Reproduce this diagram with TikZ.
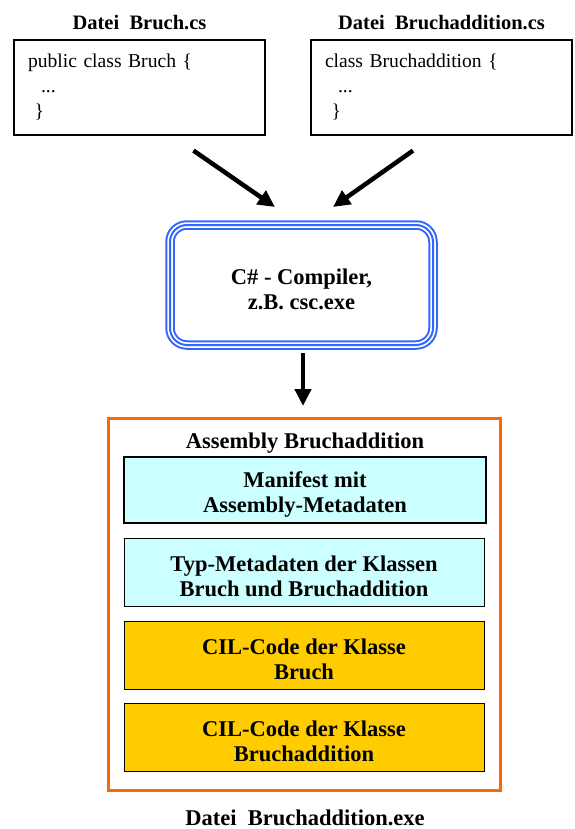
\documentclass[tikz,border=0pt]{standalone}
\usepackage{fontspec}
\setmainfont{Liberation Serif}
\usetikzlibrary{positioning,arrows.meta}
\definecolor{compblue}{RGB}{51,102,255}
\definecolor{exeorange}{RGB}{255,102,0}
\definecolor{metacyan}{RGB}{204,255,255}
\definecolor{cilgold}{RGB}{255,204,0}
% taller first line, pushes two-line texts a little down in their boxes
\newcommand{\firstline}{\rule{0pt}{24pt}}
\tikzstyle{title} = [font=\fontsize{22.5}{25}\selectfont\bfseries, align=center]
\tikzstyle{filetitle} = [font=\fontsize{20.5}{25}\selectfont\bfseries]
\tikzstyle{source} = [rectangle, draw=black, line width=1.2pt, minimum height=95pt, align=left, inner xsep=14pt, font=\fontsize{19.6}{25}\selectfont]
\tikzstyle{compiler} = [rectangle, rounded corners=17pt, minimum width=263pt, minimum height=120pt, align=center, font=\fontsize{22.5}{25}\selectfont\bfseries, preaction={fill=white}, preaction={draw=compblue, line width=9.5pt}, preaction={draw=white, line width=5.5pt}, draw=compblue, line width=2pt]
\tikzstyle{part} = [rectangle, draw=black, line width=0.8pt, minimum width=360pt, minimum height=68pt, align=center, font=\fontsize{22.5}{25}\selectfont\bfseries]
\tikzstyle{arrow} = [line width=4.5pt, -{Triangle[length=17pt,width=16pt]}]

\begin{document}
\begin{tikzpicture}[x=1pt, y=-1pt]
\useasboundingbox (0,0) rectangle (574,829);
% source files
\node (bruch) [source, minimum width=251pt, text width=223pt] at (139.5,87.5) {public class Bruch \{\\\ \ ...\\\ \}};
\node (addition) [source, minimum width=261pt, text width=233pt] at (441.5,87.5) {class Bruchaddition \{\\\ \ ...\\\ \}};
\node (bruchtitle) [filetitle, above=6pt of bruch] {Datei\ \ Bruch.cs};
\node (additiontitle) [filetitle, above=6pt of addition] {Datei\ \ Bruchaddition.cs};
% compiler
\node (compiler) [compiler] at (301.5,285) {\firstline C\# - Compiler,\\z.B. csc.exe};
\draw [arrow] ([shift={(54,15)}]bruch.south) -- ([shift={(-26.5,-17)}]compiler.north);
\draw [arrow] ([shift={(-28.5,15)}]addition.south) -- ([shift={(31.5,-17)}]compiler.north);
% assembly
\node (assembly) [rectangle, draw=exeorange, line width=3pt, minimum width=392pt, minimum height=372pt] at (304.5,604.5) {};
\draw [arrow] ([shift={(1.5,7)}]compiler.south) -- ([shift={(-1.5,-11)}]assembly.north);
\node (asmtitle) [title] at (305,443) {Assembly Bruchaddition};
\node (manifest) [part, fill=metacyan, line width=2pt, minimum width=362pt, minimum height=66pt] at (305,490) {\firstline Manifest mit\\Assembly-Metadaten};
\node (typmeta) [part, fill=metacyan] at (304,572) {\firstline Typ-Metadaten der Klassen\\Bruch und Bruchaddition};
\node (cilbruch) [part, fill=cilgold] at (304,655) {\firstline CIL-Code der Klasse\\Bruch};
\node (ciladdition) [part, fill=cilgold] at (304,737) {\firstline CIL-Code der Klasse\\Bruchaddition};
\node (exetitle) [title, anchor=base, inner sep=1pt] at (305,825) {Datei\ \ Bruchaddition.exe};
\end{tikzpicture}
\end{document}
